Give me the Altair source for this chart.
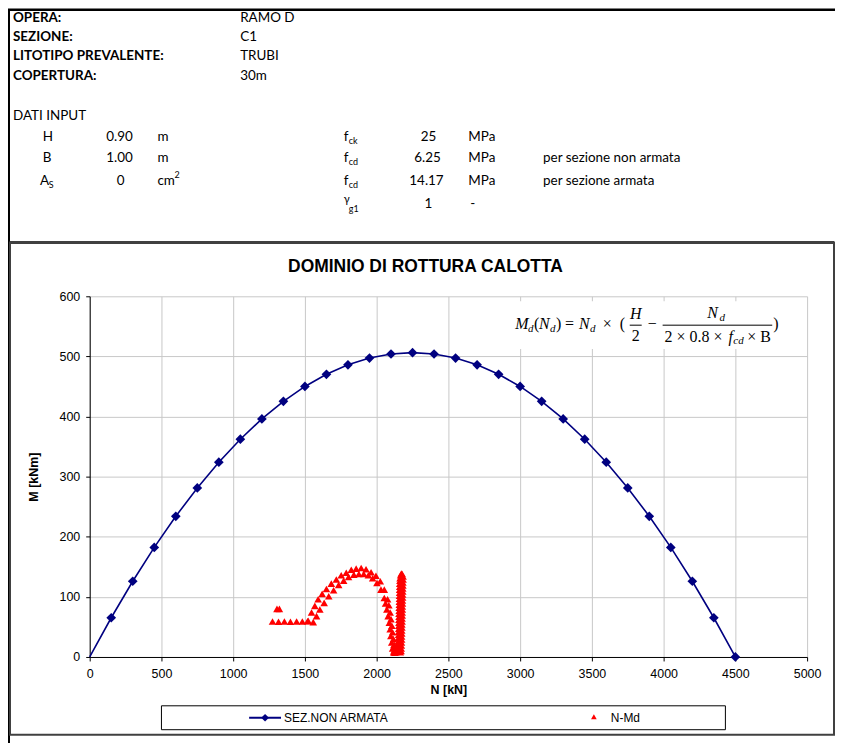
import altair as alt
import pandas as pd

# ---------------- data ----------------
N_dom = [0, 150, 300, 450, 600, 750, 900, 1050, 1200, 1350, 1500, 1650, 1800, 1950,
         2100, 2250, 2400, 2550, 2700, 2850, 3000, 3150, 3300, 3450, 3600, 3750,
         3900, 4050, 4200, 4350, 4500]
M_dom = [0, 65.25, 126, 182.25, 234, 281.25, 324, 362.25, 396, 425.25, 450, 470.25,
         486, 497.25, 504, 506.25, 504, 497.25, 486, 470.25, 450, 425.25, 396, 362.25,
         324, 281.25, 234, 182.25, 126, 65.25, 0]

flat_N = [1274, 1316, 1357, 1399, 1442, 1482, 1518]
flat_M = [59, 58.5, 59, 58.5, 59, 59, 59.5]
raised_N = [1305, 1322]
raised_M = [80, 80]
outer_N = [1523, 1546, 1569, 1592, 1620, 1650, 1684, 1719, 1753, 1788, 1823, 1857, 1892,
           1926, 1961, 1995, 2025, 2053, 2076, 2085, 2094, 2100, 2106, 2111, 2117, 2120, 2122]
outer_M = [60, 74, 85, 96, 105, 113, 122, 129, 136, 140, 145, 147, 148,
           146, 141, 135, 126, 112, 96, 86, 74, 63, 52, 41, 30, 20, 11]
inner_N = [1558, 1581, 1604, 1634, 1666, 1700, 1735, 1770, 1804, 1841, 1876, 1910, 1942,
           1972, 2002, 2030, 2053, 2062, 2071, 2080, 2088, 2094, 2099, 2105, 2111]
inner_M = [58, 68, 79, 90, 101, 111, 120, 127, 133, 137, 138, 138, 136,
           131, 123, 112, 98, 89, 79, 68, 57, 46, 35, 24, 14]
bottom_N = [2118, 2126, 2134, 2142, 2130, 2138, 2146, 2124, 2158, 2165]
bottom_M = [8, 7, 8, 9, 14, 17, 12, 20, 9, 8]
spike_up_N = [2150, 2151, 2151, 2152, 2152, 2153, 2153, 2154, 2154, 2155, 2155, 2156, 2156,
              2157, 2157, 2158, 2158, 2159, 2159, 2160, 2160, 2161, 2161, 2162, 2163]
spike_up_M = [12, 17, 22, 27, 32, 37, 42, 47, 52, 57, 62, 67, 72,
              77, 82, 87, 92, 97, 102, 107, 112, 117, 122, 127, 131]
spike_top_N = [2167, 2172, 2178]
spike_top_M = [136, 139, 138]
spike_dn_N = [2184, 2184, 2183, 2183, 2182, 2182, 2181, 2181, 2180, 2180, 2179, 2179, 2178,
              2178, 2177, 2177, 2176, 2176, 2175, 2175, 2174, 2174, 2173, 2172, 2171, 2170]
spike_dn_M = [134, 129, 124, 119, 114, 109, 104, 99, 94, 89, 84, 79, 74,
              69, 64, 59, 54, 49, 44, 39, 34, 29, 24, 19, 14, 10]

x_ticks = [0, 500, 1000, 1500, 2000, 2500, 3000, 3500, 4000, 4500, 5000]
y_ticks = [0, 100, 200, 300, 400, 500, 600]

dom_df = pd.DataFrame({"N": N_dom, "M": M_dom})
red_df = pd.DataFrame({
    "N": flat_N + raised_N + outer_N + inner_N + bottom_N + spike_up_N + spike_top_N + spike_dn_N,
    "M": flat_M + raised_M + outer_M + inner_M + bottom_M + spike_up_M + spike_top_M + spike_dn_M,
})

# ---------------- layout ----------------
W, H = 720, 362
PAD_L, PAD_T, PAD_R, PAD_B = 82, 288, 28, 85
OX, OY = 8 + PAD_L, 8 + PAD_T   # page position of plot origin

NAVY = "#000080"
RED = "#ff0000"
ONE = alt.Data(values=[{"a": 1}])
HF = "Lato"
CF = "Liberation Sans"
SF = "Liberation Serif"


def txt(s, x, y, size=13.5, font=HF, weight="normal", style="normal", align="left",
        color="black", baseline="middle"):
    return alt.Chart(ONE).mark_text(
        text=s, align=align, baseline=baseline, font=font, fontSize=size,
        fontWeight=weight, fontStyle=style, color=color
    ).encode(x=alt.value(x - OX), y=alt.value(y - OY))


def rule(x1, y1, x2, y2, color="black", width=1.0):
    return alt.Chart(ONE).mark_rule(color=color, strokeWidth=width).encode(
        x=alt.value(x1 - OX), x2=alt.value(x2 - OX),
        y=alt.value(y1 - OY), y2=alt.value(y2 - OY))


def box(x1, y1, x2, y2, fill=None, stroke=None, width=1.0):
    kw = dict(strokeWidth=width)
    if fill is None:
        kw["fillOpacity"] = 0
        kw["fill"] = "white"
    else:
        kw["fill"] = fill
    if stroke is not None:
        kw["stroke"] = stroke
    else:
        kw["strokeOpacity"] = 0
    return alt.Chart(ONE).mark_rect(**kw).encode(
        x=alt.value(x1 - OX), x2=alt.value(x2 - OX),
        y=alt.value(y1 - OY), y2=alt.value(y2 - OY))


def sym(shape, x, y, size, color):
    return alt.Chart(ONE).mark_point(shape=shape, filled=True, size=size, color=color,
                                     opacity=1).encode(
        x=alt.value(x - OX), y=alt.value(y - OY))


xs = alt.Scale(domain=[0, 5000], nice=False, zero=False)
ys = alt.Scale(domain=[0, 600], nice=False, zero=False)

x_axis = alt.Axis(values=x_ticks, title="N [kN]", format="d", grid=True,
                  gridColor="#c8c8c8", gridWidth=1, domainColor="black", domainWidth=1,
                  tickColor="black", tickSize=4, labelFont=CF, labelFontSize=12.5,
                  labelColor="black", labelPadding=7, labelFlush=False,
                  titleFont=CF, titleFontSize=12.5, titleFontWeight="bold",
                  titleColor="black", titlePadding=3)
y_axis = alt.Axis(values=y_ticks, title="M [kNm]", format="d", grid=True,
                  gridColor="#c8c8c8", gridWidth=1, domainColor="black", domainWidth=1,
                  tickColor="black", tickSize=4, labelFont=CF, labelFontSize=12.5,
                  labelColor="black", labelPadding=6, labelFlush=False,
                  titleFont=CF, titleFontSize=12.5, titleFontWeight="bold",
                  titleColor="black", titlePadding=19)

dom_line = alt.Chart(dom_df).mark_line(color=NAVY, strokeWidth=1.6).encode(
    x=alt.X("N:Q", scale=xs, axis=x_axis),
    y=alt.Y("M:Q", scale=ys, axis=y_axis),
)
dom_pts = alt.Chart(dom_df).transform_filter("datum.N > 0").mark_point(
    shape="diamond", filled=True, size=95, color=NAVY, opacity=1).encode(
    x=alt.X("N:Q", scale=xs), y=alt.Y("M:Q", scale=ys))
red_pts = alt.Chart(red_df).mark_point(
    shape="triangle-up", filled=True, size=58, color=RED, opacity=1).encode(
    x=alt.X("N:Q", scale=xs), y=alt.Y("M:Q", scale=ys))

layers = [dom_line]

# page frame
layers.append(rule(8, 8.5, 843, 8.5, width=2.5))
layers.append(rule(9, 8, 9, 745, width=2))

# header
for lab, val, yy in [("OPERA:", "RAMO D", 17), ("SEZIONE:", "C1", 36),
                     ("LITOTIPO PREVALENTE:", "TRUBI", 55), ("COPERTURA:", "30m", 75)]:
    layers.append(txt(lab, 13, yy, weight="bold"))
    layers.append(txt(val, 241, yy))
layers.append(txt("DATI INPUT", 13, 115))

# left input column
layers.append(txt("H", 43, 136))
layers.append(txt("0.90", 120, 136, align="center"))
layers.append(txt("m", 158, 136))
layers.append(txt("B", 43, 157))
layers.append(txt("1.00", 120, 157, align="center"))
layers.append(txt("m", 158, 157))
layers.append(txt("A", 40, 180))
layers.append(txt("S", 49, 184, size=9))
layers.append(txt("0", 121, 180, align="center"))
layers.append(txt("cm", 158, 180))
layers.append(txt("2", 175, 174, size=9))

# right input column
layers.append(txt("f", 345, 136))
layers.append(txt("ck", 350, 140, size=9))
layers.append(txt("25", 430, 136, align="center"))
layers.append(txt("MPa", 470, 136))
layers.append(txt("f", 345, 157))
layers.append(txt("cd", 350, 161, size=9))
layers.append(txt("6.25", 429, 157, align="center"))
layers.append(txt("MPa", 470, 157))
layers.append(txt("per sezione non armata", 545, 157))
layers.append(txt("f", 345, 180))
layers.append(txt("cd", 350, 184, size=9))
layers.append(txt("14.17", 428, 180, align="center"))
layers.append(txt("MPa", 470, 180))
layers.append(txt("per sezione armata", 545, 180))
layers.append(txt("γ", 345, 199, size=11))
layers.append(txt("g1", 350, 208, size=9))
layers.append(txt("1", 430, 203, align="center"))
layers.append(txt("-", 472, 203))

# chart area box
layers.append(box(10, 242, 837, 736, stroke="#404040", width=2))
layers.append(rule(10, 242, 837, 242, color="#404040", width=3))

# chart title
layers.append(txt("DOMINIO DI ROTTURA CALOTTA", 427, 267, size=17.5, font=CF,
                  weight="bold", align="center"))

# formula
layers.append(box(506, 301, 792, 349, fill="white"))
FS = 16
SS = 11
layers.append(txt("M", 517, 324, size=FS, font=SF, style="italic"))
layers.append(txt("d", 530, 329, size=SS, font=SF, style="italic"))
layers.append(txt("(", 536, 324, size=FS, font=SF))
layers.append(txt("N", 541, 324, size=FS, font=SF, style="italic"))
layers.append(txt("d", 552, 329, size=SS, font=SF, style="italic"))
layers.append(txt(")", 558, 324, size=FS, font=SF))
layers.append(txt("=", 567, 324, size=FS, font=SF))
layers.append(txt("N", 581, 324, size=FS, font=SF, style="italic"))
layers.append(txt("d", 592, 329, size=SS, font=SF, style="italic"))
layers.append(txt("×", 605, 324, size=FS, font=SF))
layers.append(txt("(", 622, 324, size=FS, font=SF))
layers.append(txt("H", 638, 314, size=FS, font=SF, style="italic", align="center"))
layers.append(rule(632, 325, 644, 325, width=1))
layers.append(txt("2", 638, 336, size=FS, font=SF, align="center"))
layers.append(txt("−", 650, 324, size=FS, font=SF))
layers.append(txt("N", 715, 313, size=FS, font=SF, style="italic", align="center"))
layers.append(txt("d", 722, 318, size=SS, font=SF, style="italic"))
layers.append(rule(665, 325, 775, 325, width=1))
layers.append(txt("2 × 0.8 ×", 667, 337, size=FS, font=SF))
layers.append(txt("f", 731, 337, size=FS, font=SF, style="italic"))
layers.append(txt("cd", 736, 341, size=SS, font=SF, style="italic"))
layers.append(txt("× B", 750, 337, size=FS, font=SF))
layers.append(txt(")", 776, 324, size=FS, font=SF))

# data marks
layers += [dom_pts, red_pts]

# legend
layers.append(box(162, 707, 728, 731, stroke="black", width=1))
layers.append(rule(250, 719, 282, 719, color=NAVY, width=2))
layers.append(sym("diamond", 266, 719, 60, NAVY))
layers.append(txt("SEZ.NON ARMATA", 285, 719, size=12, font=CF))
layers.append(sym("triangle-up", 596, 718, 32, RED))
layers.append(txt("N-Md", 613, 719, size=12, font=CF))

chart = alt.layer(*layers).properties(
    width=W, height=H,
    autosize=alt.AutoSizeParams(type="none"),
    padding={"left": PAD_L, "top": PAD_T, "right": PAD_R, "bottom": PAD_B},
    background="white",
).configure_view(stroke=None)

chart.save("out.html", embed_options={"renderer": "svg", "actions": False})
